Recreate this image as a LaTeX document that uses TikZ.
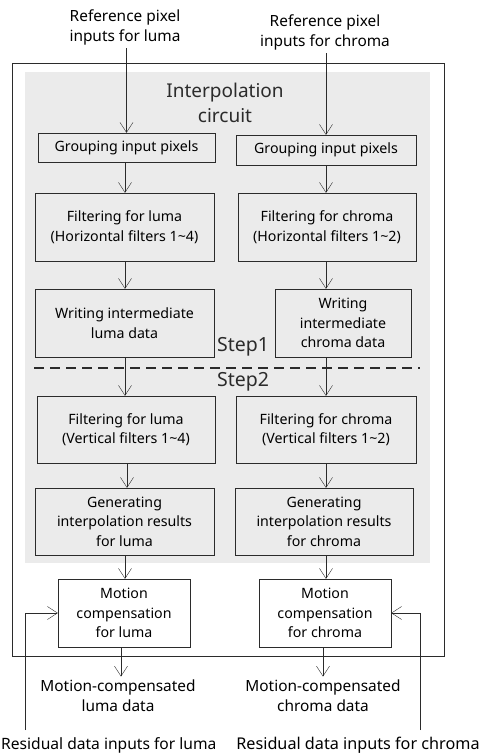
\documentclass[tikz,border=0pt]{standalone}
\usepackage{fontspec}
\setmainfont{Noto Sans}
\usetikzlibrary{arrows.meta}
\definecolor{panel}{HTML}{EBEBEB}
\definecolor{ink}{HTML}{2B2B2B}

\begin{document}
\begin{tikzpicture}[
        x=1pt, y=-1pt,
        box/.style={draw=ink, fill=panel, align=center, inner sep=1pt,
                    font=\fontsize{14.2}{19.5}\selectfont},
        mcbox/.style={box, fill=white},
        flow/.style={-{Straight Barb[length=10pt,width=13pt]}, ink},
        label/.style={align=center, font=\fontsize{15.4}{20}\selectfont}
    ]
    \useasboundingbox (0,0) rectangle (485,755);

    % Rahmen und Schaltungsblock
    \draw[ink, line width=0.9pt] (12,63) rectangle (444,656);
    \fill[panel] (25,72) rectangle (430,563);
    \node[font=\fontsize{19}{25}\selectfont, align=center, text=ink] (title) at (225,103) {Interpolation\\circuit};

    % Eingaben
    \node[label] (inl) at (125,27) {Reference pixel\\inputs for luma};
    \node[label] (inc) at (325,32) {Reference pixel\\inputs for chroma};

    % Luma-Pfad
    \node[box, minimum width=177, minimum height=29] (gl) at (126.5,147.5) {Grouping input pixels};
    \node[box, minimum width=179, minimum height=68] (fhl) at (124.5,227) {Filtering for luma\\(Horizontal filters 1\textasciitilde4)};
    \node[box, minimum width=179, minimum height=68] (wl) at (124.5,323) {Writing intermediate\\luma data};
    \node[box, minimum width=178, minimum height=67] (fvl) at (126,429.5) {Filtering for luma\\(Vertical filters 1\textasciitilde4)};
    \node[box, minimum width=179, minimum height=67] (genl) at (124.5,521.5) {Generating\\interpolation results\\for luma};
    \node[mcbox, minimum width=132, minimum height=68] (ml) at (124,613) {Motion\\compensation\\for luma};

    % Chroma-Pfad
    \node[box, minimum width=180, minimum height=30] (gc) at (326,150) {Grouping input pixels};
    \node[box, minimum width=178, minimum height=68] (fhc) at (327,227) {Filtering for chroma\\(Horizontal filters 1\textasciitilde2)};
    \node[box, minimum width=136, minimum height=68] (wc) at (343,323) {Writing\\intermediate\\chroma data};
    \node[box, minimum width=180, minimum height=67] (fvc) at (326,429.5) {Filtering for chroma\\(Vertical filters 1\textasciitilde2)};
    \node[box, minimum width=178, minimum height=67] (genc) at (324,521.5) {Generating\\interpolation results\\for chroma};
    \node[mcbox, minimum width=132, minimum height=68] (mc) at (325,613) {Motion\\compensation\\for chroma};

    % Stufen
    \draw[ink, line width=1.8pt, dash pattern=on 10pt off 6pt] (34,368) -- (420,368);
    \node[font=\fontsize{19.5}{22}\selectfont, text=ink] (s1) at (243,347) {Step1};
    \node[font=\fontsize{19.5}{22}\selectfont, text=ink] (s2) at (243,382) {Step2};

    % Ausgaben
    \node[label] (outl) at (118,696) {Motion-compensated\\luma data};
    \node[label] (outc) at (323,696) {Motion-compensated\\chroma data};
    \node[label, anchor=west, inner sep=1pt, font=\fontsize{15.6}{20}\selectfont] (resl) at (0,745) {Residual data inputs for luma};
    \node[label, font=\fontsize{16.2}{20}\selectfont] (resc) at (358,745) {Residual data inputs for chroma};
    \coordinate (rl) at (25,730);
    \coordinate (rc) at (420,730);

    % Pfeile
    \draw[flow] (inl.south -| gl.north) -- (gl.north);
    \draw[flow] (gl.south -| 125,0) -- (fhl.north -| 125,0);
    \draw[flow] (fhl.south -| 125,0) -- (wl.north -| 125,0);
    \draw[flow] (wl.south -| 125,0) -- (fvl.north -| 125,0);
    \draw[flow] (fvl.south -| 127,0) -- (genl.north -| 127,0);
    \draw[flow] (genl.south -| 125,0) -- (ml.north -| 125,0);
    \draw[flow] (ml.south -| 121,0) -- (outl.north -| 121,0);

    \draw[flow] (inc.south -| gc.north) -- (gc.north);
    \draw[flow] (gc.south -| 326,0) -- (fhc.north -| 326,0);
    \draw[flow] (fhc.south -| 326,0) -- (wc.north -| 326,0);
    \draw[flow] (wc.south -| 326,0) -- (fvc.north -| 326,0);
    \draw[flow] (fvc.south -| 326,0) -- (genc.north -| 326,0);
    \draw[flow] (genc.south -| 326,0) -- (mc.north -| 326,0);
    \draw[flow] (mc.south -| 323,0) -- (outc.north -| 323,0);

    \draw[flow] (rl) |- (ml.west);
    \draw[flow] (rc) |- (mc.east);
\end{tikzpicture}
\end{document}
